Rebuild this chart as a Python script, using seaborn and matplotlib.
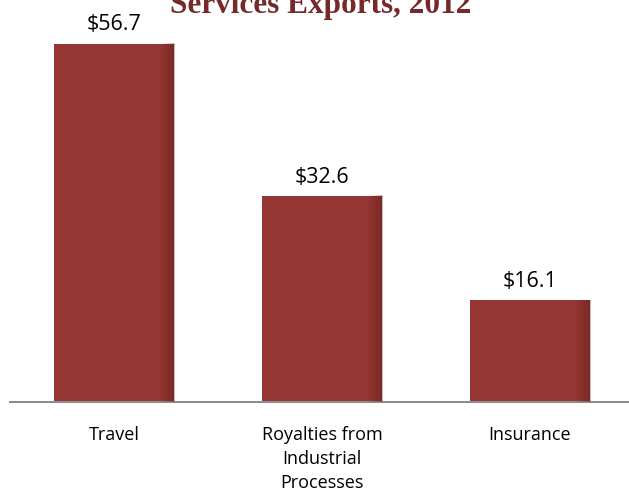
import matplotlib
matplotlib.use("Agg")
import matplotlib.pyplot as plt
import seaborn as sns
import numpy as np
import pandas as pd

categories = ["Travel", "Royalties from\nIndustrial\nProcesses", "Insurance"]
values = [56.7, 32.6, 16.1]
value_labels = ["$56.7", "$32.6", "$16.1"]
title = "Services Exports, 2012"

df = pd.DataFrame({"cat": categories, "val": values})

sns.set_style("white")
plt.rcParams["font.family"] = ["Open Sans", "DejaVu Sans"]

fig = plt.figure(figsize=(6.29, 4.93), dpi=100)
ax = fig.add_axes([10/629, 91/493, 624/629, 402/493])
sns.barplot(data=df, x="cat", y="val", color="#943634", width=0.577,
            saturation=1, ax=ax, zorder=2, edgecolor="none", linewidth=0)

ax.set_ylim(0, 63.6)
ax.set_xlim(-0.5, 2.5)

# subtle right-edge shading on each bar
n = 200
grad = np.linspace(0, 1, n)
alpha = np.clip((grad - 0.88) / 0.12, 0, 1) ** 0.8 * 0.28
rgba = np.zeros((1, n, 4))
rgba[..., 0] = 0.25
rgba[..., 3] = alpha
for p in list(ax.patches):
    x0, y0 = p.get_x(), p.get_y()
    w, h = p.get_width(), p.get_height()
    ax.imshow(rgba, extent=[x0, x0 + w, y0, y0 + h], aspect="auto", zorder=3,
              interpolation="bilinear")
ax.set_aspect("auto")
ax.set_xlim(-0.5, 2.5)
ax.set_ylim(0, 63.6)

for i, (v, lab) in enumerate(zip(values, value_labels)):
    ax.text(i, v + 1.3, lab, ha="center", va="bottom", fontsize=15.5,
            color="#000000")

ax.set_xlabel("")
ax.set_ylabel("")
ax.set_yticks([])
ax.tick_params(axis="x", length=0, labelsize=13, pad=17, labelcolor="#000000")
for s in ["top", "right", "left"]:
    ax.spines[s].set_visible(False)
ax.spines["bottom"].set_color("#8c8c8c")
ax.spines["bottom"].set_linewidth(1.5)
for t in ax.get_xticklabels():
    t.set_linespacing(1.45)

fig.text(321/629, 1 - 13/493, title, ha="center", va="baseline",
         fontsize=22.5, fontweight="bold", color="#76292a",
         family=["Liberation Serif", "DejaVu Serif"])

fig.savefig("out.png", dpi=100)
